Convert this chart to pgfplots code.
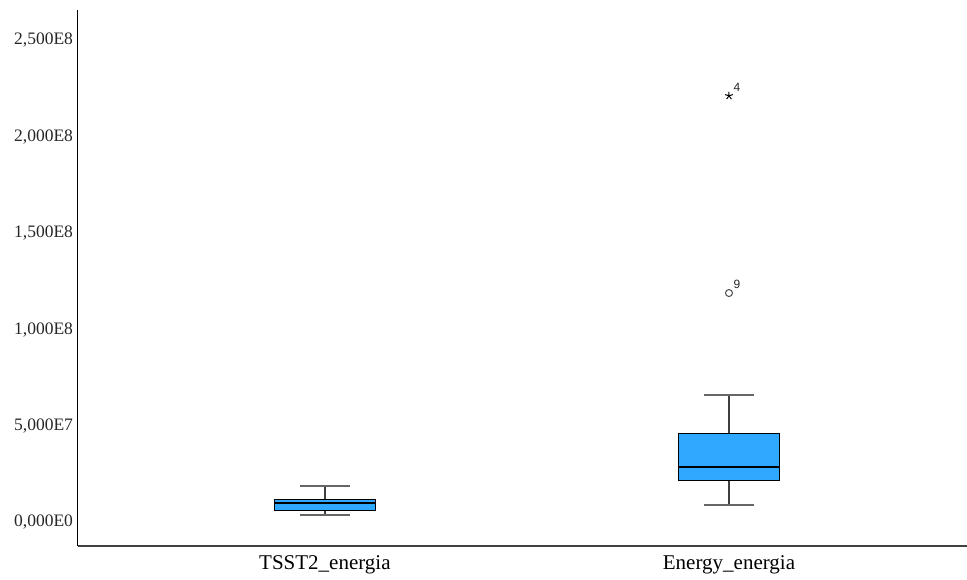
\documentclass[border=0pt]{standalone}
\usepackage{pgfplots}
\pgfplotsset{compat=1.18}
\usepackage{fontspec}
\setmainfont{Liberation Serif}
\newfontfamily\labsans{Liberation Sans}
\definecolor{boxblue}{RGB}{47,169,255}
\begin{document}
\begin{tikzpicture}
\path[use as bounding box] (-78pt,-33pt) rectangle (889pt,546pt);
% values in units of 1E6
\begin{axis}[
  at={(0,0)}, anchor=south west,
  scale only axis, width=889pt, height=536pt,
  xmin=-0.611, xmax=1.589, ymin=-13.5, ymax=264.5,
  axis x line*=bottom, axis y line*=left,
  x axis line style={draw=black!75, line width=1.2pt},
  y axis line style={draw=black, line width=1pt},
  ytick={0,50,100,150,200,250},
  yticklabels={{0,000E0},{5,000E7},{1,000E8},{1,500E8},{2,000E8},{2,500E8}},
  xtick={0,1},
  xticklabels={TSST2\_energia, Energy\_energia},
  major tick length=0pt,
  yticklabel style={font=\fontsize{17.5}{20}\selectfont, text=black!85, yshift=-2.5pt, xshift=-1.5pt},
  xticklabel style={font=\fontsize{21}{24}\selectfont, yshift=-6pt},
  clip=false,
]
% TSST2_energia: whiskers
\addplot[draw=black!75, line width=1.2pt] coordinates {(0,10.4) (0,17.6)};
\addplot[draw=black!75, line width=1.2pt] coordinates {(0,2.6) (0,4.67)};
\addplot[draw=black!60, line width=1.5pt] coordinates {(-0.0625,17.6) (0.0625,17.6)};
\addplot[draw=black!60, line width=1.5pt] coordinates {(-0.0625,2.6) (0.0625,2.6)};
% box
\addplot[fill=boxblue, draw=black, line width=1pt] coordinates {(-0.125,4.67) (0.125,4.67) (0.125,10.4) (-0.125,10.4)} -- cycle;
\addplot[draw=black, line width=2.6pt] coordinates {(-0.125,8.8) (0.125,8.8)};
% Energy_energia: whiskers
\addplot[draw=black!75, line width=1.2pt] coordinates {(1,45.1) (1,64.8)};
\addplot[draw=black!75, line width=1.2pt] coordinates {(1,7.8) (1,20.7)};
\addplot[draw=black!60, line width=1.5pt] coordinates {(0.9375,64.8) (1.0625,64.8)};
\addplot[draw=black!60, line width=1.5pt] coordinates {(0.9375,7.8) (1.0625,7.8)};
\addplot[fill=boxblue, draw=black, line width=1pt] coordinates {(0.875,20.7) (1.125,20.7) (1.125,45.1) (0.875,45.1)} -- cycle;
\addplot[draw=black, line width=2.6pt] coordinates {(0.875,27.5) (1.125,27.5)};
% outliers
\addplot[only marks, mark=star, mark size=4pt, black, line width=1pt] coordinates {(1,220)};
\addplot[only marks, mark=o, mark size=3.5pt, draw=black!70, line width=1pt] coordinates {(1,117.7)};
\node[anchor=south west, inner sep=0pt, xshift=4.5pt, yshift=4.5pt,
    font=\labsans\fontsize{12}{14}\selectfont, text=black!85] at (axis cs:1,220) {4};
\node[anchor=south west, inner sep=0pt, xshift=4.5pt, yshift=4.5pt,
    font=\labsans\fontsize{12}{14}\selectfont, text=black!85] at (axis cs:1,117.7) {9};
\end{axis}
\end{tikzpicture}
\end{document}
